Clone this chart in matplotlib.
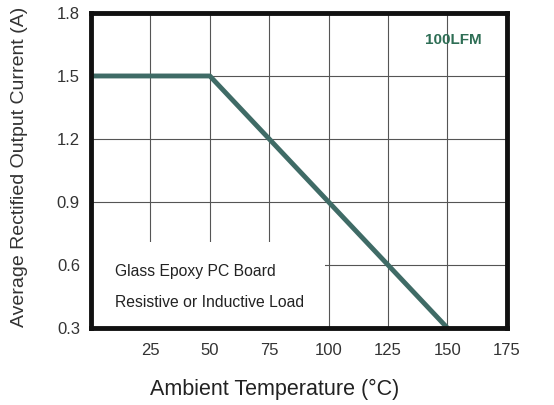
import matplotlib
matplotlib.use("Agg")
import matplotlib.pyplot as plt
from matplotlib.patches import Rectangle

plt.rcParams['font.family'] = ['Liberation Sans', 'DejaVu Sans']

temps = [0, 50, 150]
current = [1.5, 1.5, 0.3]
xticks = [25, 50, 75, 100, 125, 150, 175]
yticks = [0.3, 0.6, 0.9, 1.2, 1.5, 1.8]

fig = plt.figure(figsize=(5.54, 4.05), dpi=100)
ax = fig.add_axes([0.1643, 0.190, 0.7507, 0.778])
ax.set_xlim(0, 175)
ax.set_ylim(0.3, 1.8)
ax.set_xticks(xticks)
ax.set_yticks(yticks)
ax.set_xticklabels([str(t) for t in xticks])
ax.set_yticklabels([f"{t:.1f}" for t in yticks])
ax.grid(True, color='#555555', linewidth=0.8)
ax.set_axisbelow(True)
ax.add_patch(Rectangle((0, 0.3), 98.5, 0.41, facecolor='white', edgecolor='none', zorder=1.5))
ax.plot(temps, current, color='#3f6b66', linewidth=3.5, zorder=3, solid_capstyle='butt')
for s in ax.spines.values():
    s.set_linewidth(3.5)
    s.set_color('#111111')
    s.set_zorder(4)
ax.tick_params(axis='x', length=0, pad=11, labelsize=12, labelcolor='#333333')
ax.tick_params(axis='y', length=0, pad=8, labelsize=12, labelcolor='#333333')
ax.text(10, 0.571, "Glass Epoxy PC Board", fontsize=11.3, color='#222222', va='center', zorder=3)
ax.text(10, 0.424, "Resistive or Inductive Load", fontsize=11.3, color='#222222', va='center', zorder=3)
ax.text(152.3, 1.671, "100LFM", fontsize=11, color='#2e6e55', fontweight='bold', ha='center', va='center', zorder=3)
ax.set_xlabel("Ambient Temperature (°C)", fontsize=15.5, color='#222222')
ax.xaxis.set_label_coords(0.442, -0.16)
ax.set_ylabel("Average Rectified Output Current (A)", fontsize=14, color='#333333')
ax.yaxis.set_label_coords(-0.152, 0.51)
fig.savefig("out.png", dpi=100)
